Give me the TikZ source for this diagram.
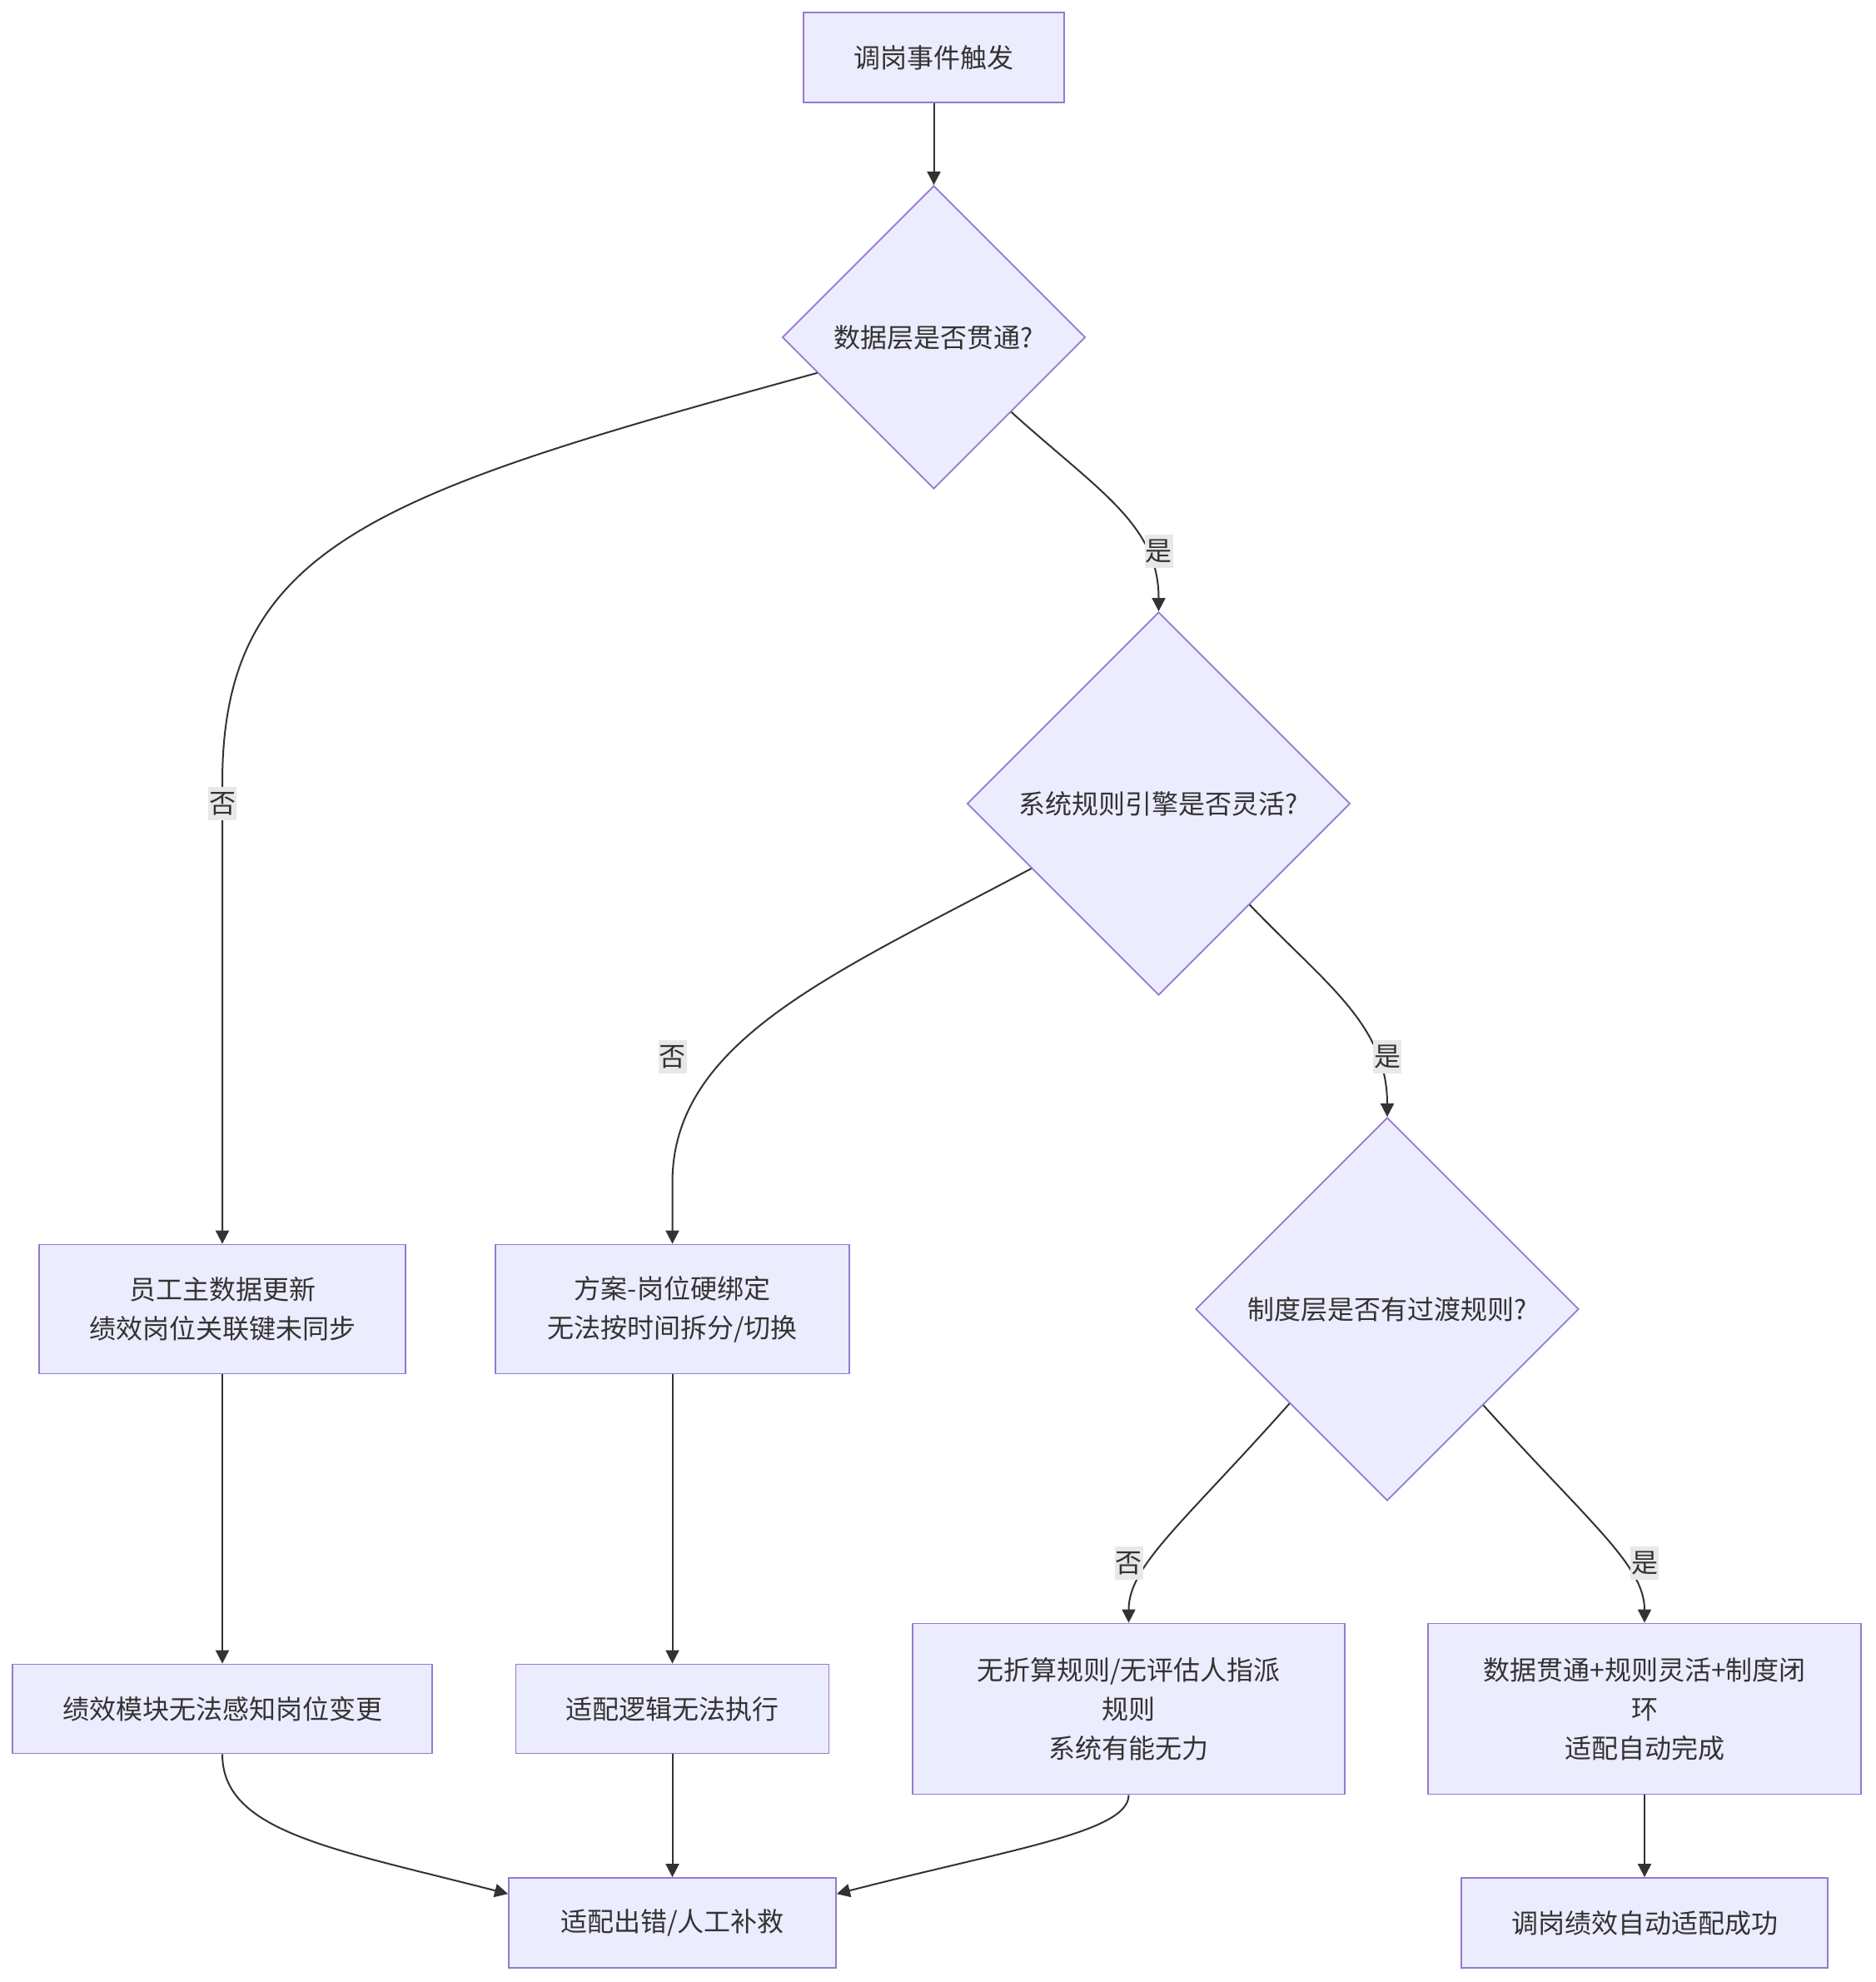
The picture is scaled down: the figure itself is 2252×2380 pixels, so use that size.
\documentclass[tikz,border=0pt]{standalone}
\usepackage{fontspec}
\newfontfamily\cjk{Noto Sans CJK SC}
\usetikzlibrary{shapes.geometric,arrows.meta}
\definecolor{mfill}{HTML}{ECECFF}
\definecolor{mborder}{HTML}{9679CF}
\definecolor{mline}{HTML}{333333}
\definecolor{mtext}{HTML}{333333}
\definecolor{lblfill}{HTML}{E8E8E8}
\tikzset{
  txt/.style={font=\cjk\fontsize{16}{23.5}\selectfont, text=mtext},
  box/.style={txt, rectangle, draw=mborder, fill=mfill, line width=0.9pt, align=center, inner sep=0pt},
  dia/.style={txt, diamond, aspect=1, draw=mborder, fill=mfill, line width=0.9pt, inner sep=0pt, align=center},
  conn/.style={draw=mline, line width=1pt, -{Triangle[length=8pt,width=8pt]}},
  lbl/.style={txt, fill=lblfill, inner xsep=0.5pt, inner ysep=3pt},
}
\begin{document}
\begin{tikzpicture}[x=0.5pt,y=-0.5pt]
\useasboundingbox[fill=white] (0,0) rectangle (2252,2380);
% nodes
\node[box, minimum width=156.5pt, minimum height=54pt] (A) at (1121.5,69) {调岗事件触发};
\node[dia, minimum width=182pt, minimum height=182pt] (B) at (1121.5,405) {数据层是否贯通?};
\node[dia, minimum width=230pt, minimum height=230pt] (C) at (1391.5,965) {系统规则引擎是否灵活?};
\node[dia, minimum width=230pt, minimum height=230pt] (D) at (1666,1572) {制度层是否有过渡规则?};
\node[box, minimum width=220pt, minimum height=77.5pt] (E) at (267,1572) {员工主数据更新\\绩效岗位关联键未同步};
\node[box, minimum width=212.5pt, minimum height=77.5pt] (F) at (807.5,1572) {方案-岗位硬绑定\\无法按时间拆分/切换};
\node[box, minimum width=252pt, minimum height=53.5pt] (G) at (267,2052) {绩效模块无法感知岗位变更};
\node[box, minimum width=188pt, minimum height=53.5pt] (H) at (807.5,2052) {适配逻辑无法执行};
\node[box, minimum width=259.5pt, minimum height=102.5pt] (I) at (1355.5,2052) {无折算规则/无评估人指派\\规则\\系统有能无力};
\node[box, minimum width=260pt, minimum height=102.5pt] (J) at (1975,2052) {数据贯通+规则灵活+制度闭\\环\\适配自动完成};
\node[box, minimum width=196.5pt, minimum height=54pt] (K) at (807.5,2309) {适配出错/人工补救};
\node[box, minimum width=220pt, minimum height=54pt] (L) at (1975,2309) {调岗绩效自动适配成功};
% connectors
\draw[conn] (A.south) -- (B.north);
\draw[conn] (B.197) .. controls (455,592) and (267,653) .. (267,940) -- (E.north);
\draw[conn] (B.316) .. controls (1320,590) and (1391.5,630) .. (C.north);
\draw[conn] (C.207.7) .. controls (1000,1170) and (807.5,1250) .. (807.5,1420) -- (F.north);
\draw[conn] (C.312.4) .. controls (1590,1180) and (1666,1230) .. (D.north);
\draw[conn] (D.224.6) .. controls (1420,1830) and (1355.5,1880) .. (I.north);
\draw[conn] (D.315.4) .. controls (1910,1830) and (1975,1880) .. (J.north);
\draw[conn] (E.south) -- (G.north);
\draw[conn] (F.south) -- (H.north);
\draw[conn] (H.south) -- (K.north);
\draw[conn] (J.south) -- (L.north);
\draw[conn] (G.south) .. controls (267,2200) and (400,2220) .. (K.170);
\draw[conn] (I.south) .. controls (1355.5,2200) and (1215,2220) .. (K.10);
% labels
\node[lbl] (l1) at (267,965) {否};
\node[lbl] (l2) at (1391.5,662) {是};
\node[lbl] (l3) at (807.5,1269) {否};
\node[lbl] (l4) at (1666,1269) {是};
\node[lbl] (l5) at (1355.5,1877) {否};
\node[lbl] (l6) at (1975,1877) {是};
\end{tikzpicture}
\end{document}
